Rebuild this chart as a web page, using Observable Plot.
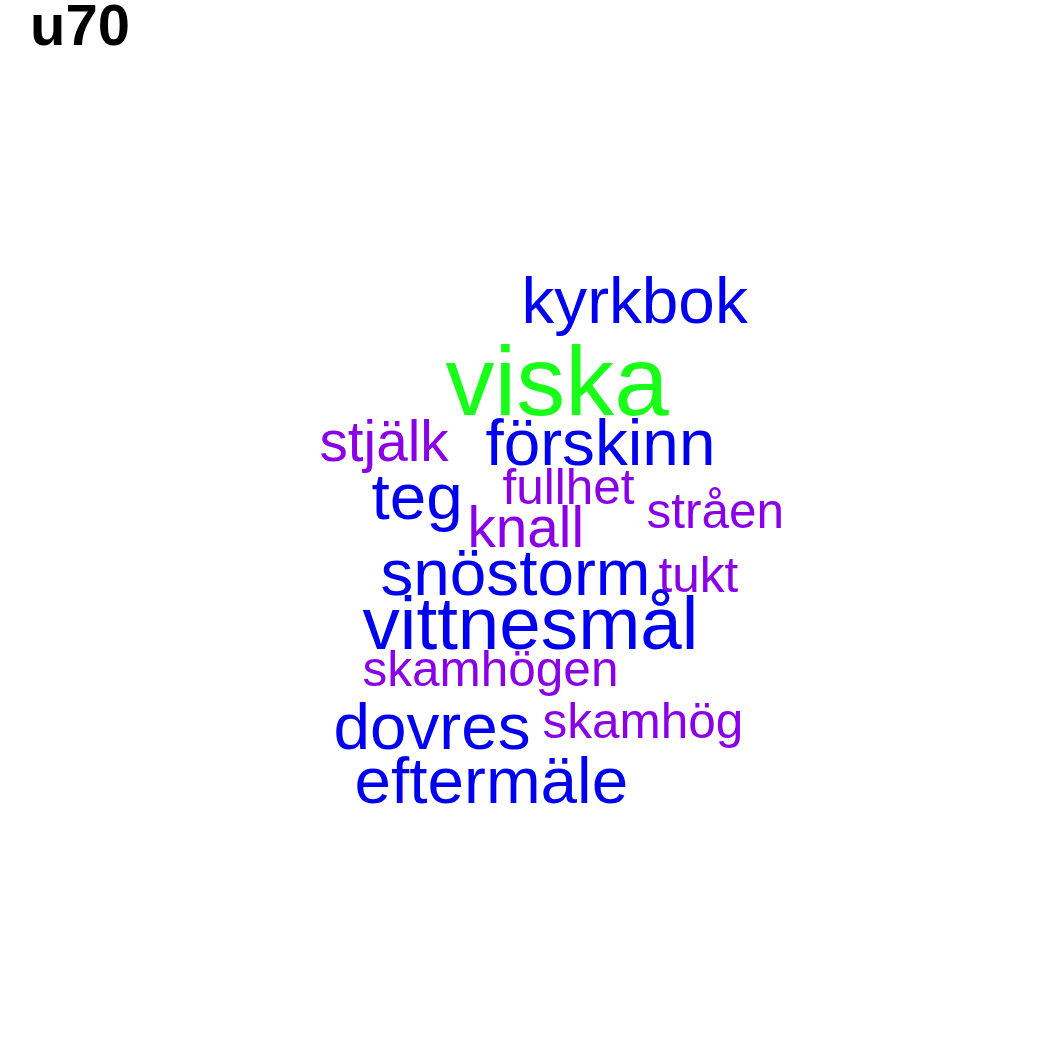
<!DOCTYPE html>
<html>
<head>
<meta charset="utf-8">
<script src="https://cdn.jsdelivr.net/npm/d3@7"></script>
<script src="https://cdn.jsdelivr.net/npm/@observablehq/plot@0.6"></script>
<style>
  html, body { margin: 0; padding: 0; background: #fff; }
  #wrap { position: relative; width: 1050px; height: 1050px; }
  #title { position: absolute; left: 30px; top: 0px; font: bold 58px "Liberation Sans", Arial, sans-serif; line-height: 0.85; color: #000; }
  #chart { position: absolute; left: 0; top: 0; }
</style>
</head>
<body>
<div id="wrap">
  <div id="chart"></div>
  <div id="title">u70</div>
</div>
<script>
// word cloud data
const words = ["kyrkbok", "viska", "stjälk", "förskinn", "fullhet", "teg", "stråen", "knall",
               "snöstorm", "tukt", "vittnesmål", "skamhögen", "dovres", "skamhög", "eftermäle"];
const freq  = [12, 30, 7, 12, 3, 12, 3, 7, 12, 3, 17, 3, 12, 3, 12];
const group = ["b", "g", "p", "b", "p", "b", "p", "p", "b", "p", "b", "p", "b", "p", "b"];
// layout coordinates (left edge, baseline) from the cloud layout
const layoutX = [521, 445, 319, 485, 502, 371, 646, 467, 380, 658, 362, 362, 333, 542, 354];
const layoutY = [322, 414, 460, 464, 503, 518, 527, 546, 594, 591, 648, 685, 748, 737, 802];

const groupColor = { g: "#1aff1a", b: "#0000ee", p: "#8a00e6" };
const fmin = d3.min(freq), fmax = d3.max(freq);
const sizeScale = d3.scaleLinear().domain([fmin, fmax]).range([49.5, 98]);

const data = words.map((w, i) => ({
  word: w, freq: freq[i], color: groupColor[group[i]], x: layoutX[i], y: layoutY[i]
}));

const chart = Plot.plot({
  width: 1050,
  height: 1050,
  margin: 0,
  x: { domain: [0, 1050], range: [0, 1050], axis: null },
  y: { domain: [0, 1050], range: [0, 1050], axis: null },
  color: { type: "identity" },
  style: { background: "#fff", fontFamily: "'Liberation Sans', Arial, sans-serif" },
  marks: [
    Plot.text(data, {
      x: "x", y: "y", text: "word",
      fill: "color",
      fontSize: d => sizeScale(d.freq),
      textAnchor: "start",
      lineAnchor: "bottom",
      fontFamily: "'Liberation Sans', Arial, sans-serif"
    })
  ]
});
document.getElementById("chart").appendChild(chart);
</script>
</body>
</html>
